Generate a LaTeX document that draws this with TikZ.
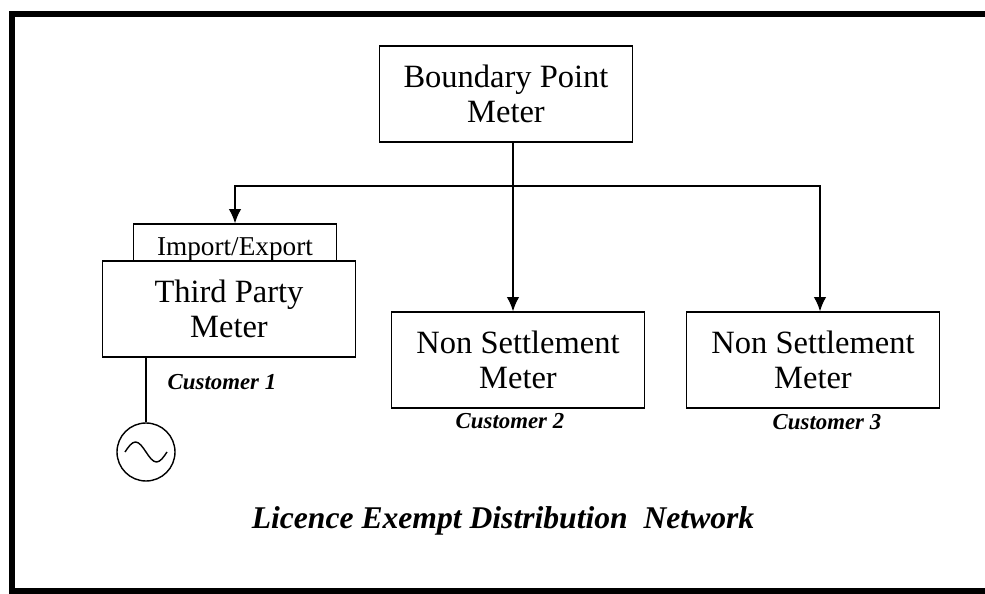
\documentclass[tikz,border=0pt]{standalone}
\usepackage{fontspec}
\setmainfont{Liberation Serif}
\usetikzlibrary{arrows.meta}

\tikzset{
	meter/.style={draw, line width=0.8pt, fill=white, minimum width=5.06cm, minimum height=1.92cm, align=center, inner sep=0pt, font=\fontsize{18.5}{20}\selectfont},
	cust/.style={font=\fontsize{13}{15}\selectfont\bfseries\itshape},
	feed/.style={line width=0.8pt, -{Latex[length=8pt,width=7pt]}}
}

\begin{document}
\begin{tikzpicture}[x=0.02cm, y=-0.02cm]
	\useasboundingbox (0,0) rectangle (985,594);
	\draw[line width=3pt] (1100,14) -- (12,14) -- (12,591) -- (1100,591);
	\node[meter] (bpm) at (506,94) {Boundary Point\\Meter};
	\node[draw, line width=0.8pt, minimum width=4.06cm, minimum height=1cm, inner sep=0pt, font=\fontsize{15.5}{17}\selectfont] (imp) at (235,249) {Import/Export};
	\node[meter] (tpm) at (229,309) {Third Party\\Meter};
	\node[meter] (nsm2) at (518,360) {Non Settlement\\Meter};
	\node[meter] (nsm3) at (813,360) {Non Settlement\\Meter};
	\node[cust] (c1) at (222,382) {Customer 1};
	\node[cust] (c2) at (510,421) {Customer 2};
	\node[cust] (c3) at (827,422) {Customer 3};
	\node[font=\fontsize{18}{21}\selectfont\bfseries\itshape] (title) at (503,521) {Licence Exempt Distribution\ \ Network};
	% generator
	\node[draw, circle, line width=0.8pt, minimum size=1.16cm, inner sep=0pt] (gen) at (146,452) {};
	\draw[line width=0.8pt] ([xshift=-0.42cm]gen.center) sin ++(10.5,-10) cos ++(10.5,10) sin ++(10.5,10) cos ++(10.5,-10);
	\draw[line width=0.8pt] (gen.north) -- (gen.north |- tpm.south);
	% feeders
	\coordinate (split) at (513,186);
	\draw[line width=0.8pt] (bpm.south -| split) -- (split);
	\draw[feed] (split) -- (split |- nsm2.north);
	\draw[feed] (split) -| (imp.north);
	\draw[feed] (split) -| ([xshift=0.14cm]nsm3.north);
\end{tikzpicture}
\end{document}
